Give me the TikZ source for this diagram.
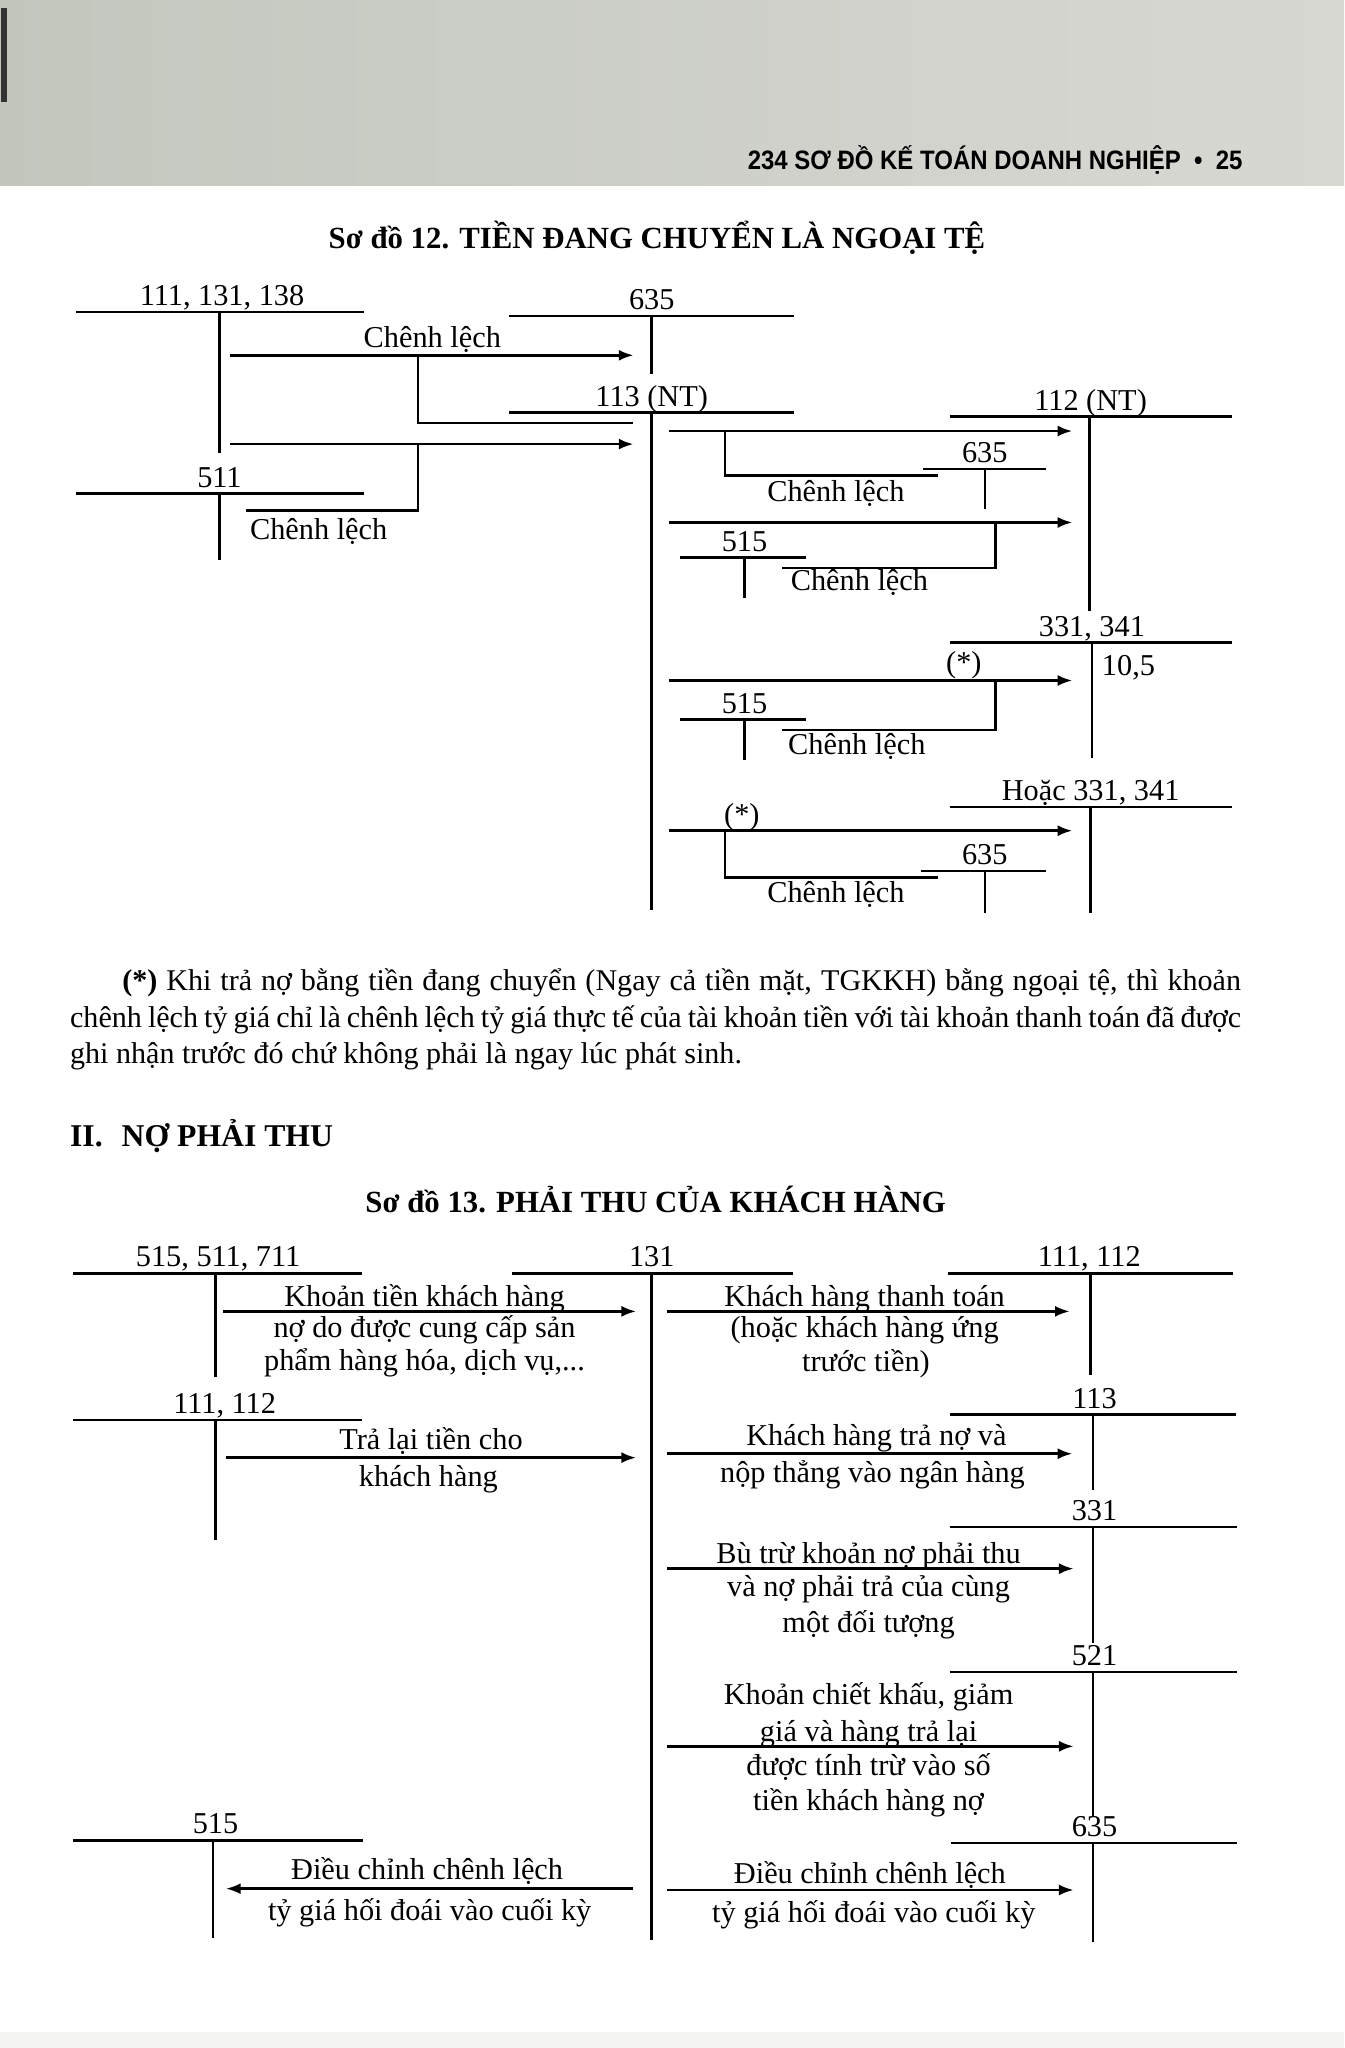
\documentclass[tikz,border=0pt]{standalone}
\usepackage{fontspec}
\setmainfont{Liberation Serif}
\newfontfamily\hdrfont[FakeStretch=0.9]{Liberation Sans}
\usetikzlibrary{arrows.meta}
\definecolor{hdrA}{RGB}{194,199,190}
\definecolor{hdrB}{RGB}{216,216,210}
\definecolor{footC}{RGB}{243,243,242}
\tikzset{
  accline/.style={line width=0.55pt},
  arr/.style={line width=0.55pt,-{Latex[length=3.2pt,width=2.4pt]}},
  dtext/.style={font=\fontsize{6.6pt}{7.6pt}\selectfont, inner sep=0pt, anchor=base},
  acclbl/.style={dtext},
  bodytext/.style={font=\fontsize{6.55pt}{8pt}\selectfont, inner sep=0pt, anchor=base west},
  titletext/.style={font=\fontsize{6.7pt}{8pt}\selectfont\bfseries, inner sep=0pt, anchor=base},
}
% name, label, label x, x left, x right, x vertical, y line, y end
\newcommand\Tacct[8]{%
  \coordinate (#1L) at (#4,#7);
  \coordinate (#1R) at (#5,#7);
  \coordinate (#1T) at (#6,#7);
  \coordinate (#1B) at (#6,#8);
  \node[acclbl] (#1) at (#3,#7-5) {#2};
  \draw[accline] (#1L) -- (#1R);
  \draw[accline] (#1T) -- (#1B);
}
\begin{document}
\begin{tikzpicture}[x=0.01cm,y=-0.01cm]
\useasboundingbox (0,0) rectangle (1029,1568);
% page header band
\shade[left color=hdrA, right color=hdrB] (0,0) rectangle (1029,142);
\draw[line width=1.2pt, black!80] (3,6) -- (3,78);
\node[font=\hdrfont\fontsize{5.8pt}{6pt}\selectfont\bfseries, inner sep=0pt, anchor=base east] (hdr) at (952,130) {234 SƠ ĐỒ KẾ TOÁN DOANH NGHIỆP \ •\ \ 25};
\fill[footC] (0,1556) rectangle (1029,1568);

% ===== Diagram 12 =====
\node[titletext] (t12) at (503,190) {Sơ đồ 12. TIỀN ĐANG CHUYỂN LÀ NGOẠI TỆ};

\Tacct{aA}{111, 131, 138}{170}{58}{279}{168}{239}{347}
\Tacct{aB}{635}{499}{390}{608}{499}{242}{286}
\Tacct{aC}{113 (NT)}{499}{390}{608}{499}{316}{697}
\Tacct{aD}{511}{168}{58}{279}{168}{378}{429}
\Tacct{aE}{112 (NT)}{835}{727}{943}{834}{319}{468}
\Tacct{aF}{635}{754}{707}{801}{754}{359}{390}
\Tacct{aG}{515}{570}{521}{617}{570}{427}{458}
\Tacct{aH}{331, 341}{836}{727}{943}{836}{492}{580}
\Tacct{aI}{515}{570}{521}{617}{570}{551}{582}
\Tacct{aJ}{Hoặc 331, 341}{835}{727}{943}{835}{618}{699}
\Tacct{aK}{635}{754}{705}{801}{754}{667}{699}

% arrow 1
\coordinate (p1s) at (176,272); \coordinate (p1e) at (485,272);
\coordinate (p1b) at (320,272); \coordinate (p1c) at (485,324);
\draw[arr] (p1s) -- (p1e);
\draw[accline] (p1b) |- (p1c);
\node[dtext] (l1) at (331,266) {Chênh lệch};
% arrow 2
\coordinate (p2s) at (176,340); \coordinate (p2e) at (485,340);
\coordinate (p2b) at (320,340); \coordinate (p2c) at (188,391);
\draw[arr] (p2s) -- (p2e);
\draw[accline] (p2b) |- (p2c);
\node[dtext] (l2) at (244,413) {Chênh lệch};
% arrow 3
\coordinate (p3s) at (512,330); \coordinate (p3e) at (821,330);
\coordinate (p3b) at (555,330); \coordinate (p3c) at (718,364);
\draw[arr] (p3s) -- (p3e);
\draw[accline] (p3b) |- (p3c);
\node[dtext] (l3) at (640,384) {Chênh lệch};
% arrow 4
\coordinate (p4s) at (512,400); \coordinate (p4e) at (821,400);
\coordinate (p4b) at (762,400); \coordinate (p4c) at (599,435);
\draw[arr] (p4s) -- (p4e);
\draw[accline] (p4b) |- (p4c);
\node[dtext] (l4) at (658,452) {Chênh lệch};
% arrow 5
\coordinate (p5s) at (512,521); \coordinate (p5e) at (821,521);
\coordinate (p5b) at (762,521); \coordinate (p5c) at (599,559);
\draw[arr] (p5s) -- (p5e);
\draw[accline] (p5b) |- (p5c);
\node[dtext] (s5) at (738,515) {(*)};
\node[dtext] (l5) at (656,578) {Chênh lệch};
\node[dtext] (n105) at (864,517) {10,5};
% arrow 6
\coordinate (p6s) at (512,636); \coordinate (p6e) at (821,636);
\coordinate (p6b) at (555,636); \coordinate (p6c) at (718,672);
\draw[arr] (p6s) -- (p6e);
\draw[accline] (p6b) |- (p6c);
\node[dtext] (s6) at (568,631) {(*)};
\node[dtext] (l6) at (640,691) {Chênh lệch};

% ===== Paragraph =====
\node[bodytext] (par1) at (93,758) {\makebox[8.56cm][s]{\textbf{(*)} Khi trả nợ bằng tiền đang chuyển (Ngay cả tiền mặt, TGKKH) bằng ngoại tệ, thì khoản}};
\node[bodytext] (par2) at (53,787) {\makebox[8.96cm][s]{chênh lệch tỷ giá chỉ là chênh lệch tỷ giá thực tế của tài khoản tiền với tài khoản thanh toán đã được}};
\node[bodytext] (par3) at (53,814) {ghi nhận trước đó chứ không phải là ngay lúc phát sinh.};
\node[bodytext, font=\fontsize{6.9pt}{8pt}\selectfont\bfseries] (sec2) at (53,878) {II.\hspace{0.6em}NỢ PHẢI THU};

% ===== Diagram 13 =====
\node[titletext] (t13) at (502,928) {Sơ đồ 13. PHẢI THU CỦA KHÁCH HÀNG};

\Tacct{bA}{515, 511, 711}{167}{56}{277}{165}{975}{1054}
\Tacct{bB}{131}{499}{392}{607}{499}{975}{1485}
\Tacct{bC}{111, 112}{834}{726}{944}{835}{975}{1053}
\Tacct{bD}{111, 112}{172}{56}{277}{165}{1087}{1179}
\Tacct{bE}{113}{838}{727}{946}{837}{1083}{1141}
\Tacct{bF}{331}{838}{727}{947}{837}{1169}{1258}
\Tacct{bG}{521}{838}{727}{947}{837}{1280}{1391}
\Tacct{bH}{515}{165}{56}{278}{163}{1409}{1484}
\Tacct{bI}{635}{838}{728}{947}{837}{1411}{1487}

% A
\coordinate (qAs) at (171,1004); \coordinate (qAe) at (487,1004);
\draw[arr] (qAs) -- (qAe);
\node[dtext] (mA1) at (325,1000) {Khoản tiền khách hàng};
\node[dtext] (mA2) at (325,1024) {nợ do được cung cấp sản};
\node[dtext] (mA3) at (325,1049) {phẩm hàng hóa, dịch vụ,...};
% B
\coordinate (qBs) at (511,1004); \coordinate (qBe) at (819,1004);
\draw[arr] (qBs) -- (qBe);
\node[dtext] (mB1) at (662,1000) {Khách hàng thanh toán};
\node[dtext] (mB2) at (662,1024) {(hoặc khách hàng ứng};
\node[dtext] (mB3) at (663,1050) {trước tiền)};
% C
\coordinate (qCs) at (173,1116); \coordinate (qCe) at (487,1116);
\draw[arr] (qCs) -- (qCe);
\node[dtext] (mC1) at (330,1110) {Trả lại tiền cho};
\node[dtext] (mC2) at (328,1138) {khách hàng};
% D
\coordinate (qDs) at (511,1113); \coordinate (qDe) at (821,1113);
\draw[arr] (qDs) -- (qDe);
\node[dtext] (mD1) at (671,1107) {Khách hàng trả nợ và};
\node[dtext] (mD2) at (668,1135) {nộp thẳng vào ngân hàng};
% E
\coordinate (qEs) at (511,1201); \coordinate (qEe) at (822,1201);
\draw[arr] (qEs) -- (qEe);
\node[dtext] (mE1) at (665,1197) {Bù trừ khoản nợ phải thu};
\node[dtext] (mE2) at (665,1222) {và nợ phải trả của cùng};
\node[dtext] (mE3) at (665,1250) {một đối tượng};
% F
\coordinate (qFs) at (511,1337); \coordinate (qFe) at (822,1337);
\draw[arr] (qFs) -- (qFe);
\node[dtext] (mF1) at (665,1305) {Khoản chiết khấu, giảm};
\node[dtext] (mF2) at (665,1333) {giá và hàng trả lại};
\node[dtext] (mF3) at (665,1359) {được tính trừ vào số};
\node[dtext] (mF4) at (665,1386) {tiền khách hàng nợ};
% G (leftwards)
\coordinate (qGs) at (485,1446); \coordinate (qGe) at (173,1446);
\draw[arr] (qGs) -- (qGe);
\node[dtext] (mG1) at (327,1439) {Điều chỉnh chênh lệch};
\node[dtext] (mG2) at (329,1470) {tỷ giá hối đoái vào cuối kỳ};
% H
\coordinate (qHs) at (511,1447); \coordinate (qHe) at (822,1447);
\draw[arr] (qHs) -- (qHe);
\node[dtext] (mH1) at (666,1442) {Điều chỉnh chênh lệch};
\node[dtext] (mH2) at (669,1472) {tỷ giá hối đoái vào cuối kỳ};
\end{tikzpicture}
\end{document}
